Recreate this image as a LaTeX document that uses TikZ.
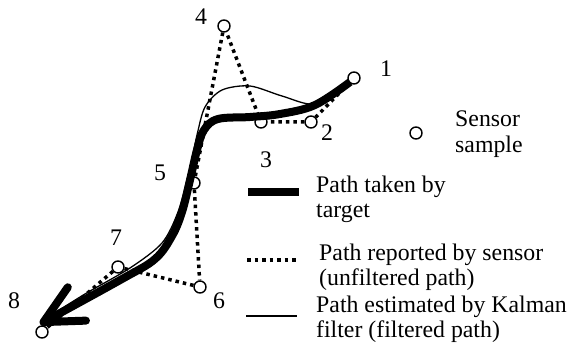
\documentclass[tikz,border=0pt]{standalone}
\usepackage{fontspec}
\setmainfont{Liberation Serif}
\usetikzlibrary{arrows.meta}

\begin{document}
\begin{tikzpicture}[
  x=1pt, y=-1pt,
  every node/.style = {font=\fontsize{23.8}{25}\selectfont},
  sample/.style   = {circle, draw, line width=1.4pt,
                     minimum size=12pt, inner sep=0pt},
  numlabel/.style = {anchor=base, inner sep=0pt},
  legtext/.style  = {anchor=base west, align=left, inner sep=0pt},
  truepath/.style = {line width=8pt},
  rawpath/.style  = {line width=3.5pt, dash pattern=on 3.5pt off 4pt},
  kalpath/.style  = {line width=1.3pt},
  tip/.style      = {-{Straight Barb[length=38pt, width=38pt, round]}},
]
\useasboundingbox (0,0) rectangle (570,350);

%% ── Sensor samples ───────────────────────────────────────────────────────
\node[sample] at (354, 78) (s1) {};
\node[sample] at (311,122) (s2) {};
\node[sample] at (261,122) (s3) {};
\node[sample] at (224, 26) (s4) {};
\node[sample] at (194,183) (s5) {};
\node[sample] at (200,287) (s6) {};
\node[sample] at (118,267) (s7) {};
\node[sample] at ( 42,332) (s8) {};

\node[numlabel] at (386, 77) (n1) {1};
\node[numlabel] at (327,140) (n2) {2};
\node[numlabel] at (266,167) (n3) {3};
\node[numlabel] at (201, 25) (n4) {4};
\node[numlabel] at (160,180) (n5) {5};
\node[numlabel] at (219,308) (n6) {6};
\node[numlabel] at (116,245) (n7) {7};
\node[numlabel] at ( 14,308) (n8) {8};

%% ── Paths ────────────────────────────────────────────────────────────────
\draw[rawpath] (s1) -- (s2) -- (s3) -- (s4) -- (s5) -- (s6) -- (s7) -- (s8);

\draw[kalpath] plot[smooth] coordinates {
  (348,84) (315,104) (282,96) (250,86) (222,90) (205,107) (197,135)
  (189,172) (178,212) (162,243) (130,268) (85,294) (42,321)};

\draw[truepath, tip] plot[smooth, tension=0.6] coordinates {
  (350,82) (315,105) (280,114) (250,117) (218,119) (204,130) (197,150)
  (190,180) (182,212) (172,236) (155,259) (122,279) (40,324)};

%% ── Legend ───────────────────────────────────────────────────────────────
\node[sample] at (416,133) (lgsample) {};
\node[legtext] at (455,152) (lgsampletxt) {Sensor\\sample};

\draw[truepath] (248,192) -- (299,192);
\node[legtext] at (316,217) (lgtrue) {Path taken by\\target};

\draw[rawpath] (247,260) -- (298,260);
\node[legtext] at (319,285) (lgraw) {Path reported by sensor\\(unfiltered path)};

\draw[kalpath] (246,316) -- (297,316);
\node[legtext] at (316,337) (lgkal) {Path estimated by Kalman\\filter (filtered path)};

\end{tikzpicture}
\end{document}
